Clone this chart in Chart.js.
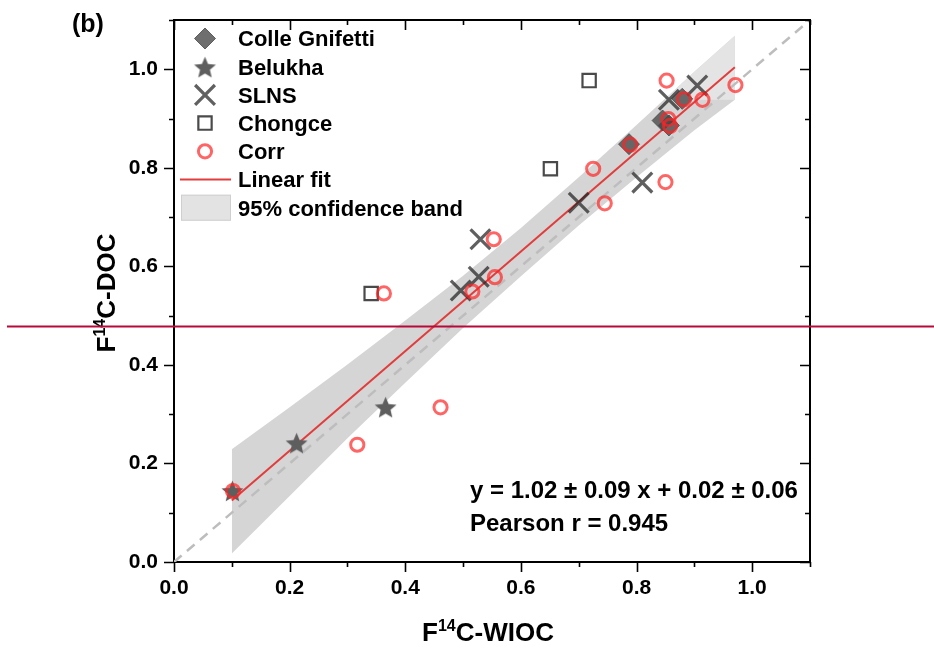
<!DOCTYPE html>
<html>
<head>
<meta charset="utf-8">
<script src="https://cdn.jsdelivr.net/npm/chart.js@4.4.1/dist/chart.umd.min.js"></script>
<style>
  html, body { margin: 0; padding: 0; background: #fff; }
</style>
</head>
<body>
<canvas id="myChart" width="934" height="648"></canvas>
<script>
// F14C-WIOC (x) against F14C-DOC (y)
var colleX = [0.787, 0.845, 0.856, 0.879];
var colleY = [0.848, 0.896, 0.886, 0.940];

var belukhaX = [0.101, 0.212, 0.366];
var belukhaY = [0.145, 0.242, 0.315];

var slnsX = [0.905, 0.856, 0.810, 0.700, 0.530, 0.527, 0.496];
var slnsY = [0.967, 0.938, 0.770, 0.729, 0.655, 0.579, 0.551];

var chongceX = [0.718, 0.651, 0.341];
var chongceY = [0.977, 0.798, 0.545];

var corrX = [0.852, 0.971, 0.882, 0.914, 0.855, 0.858, 0.789, 0.725, 0.850, 0.745, 0.553, 0.555, 0.516, 0.363, 0.317, 0.461, 0.102];
var corrY = [0.977, 0.968, 0.939, 0.938, 0.899, 0.885, 0.847, 0.798, 0.771, 0.728, 0.655, 0.578, 0.549, 0.545, 0.238, 0.314, 0.144];

// linear fit end points and 95% band edges
var fitX = [0.10, 0.97];
var fitY = [0.125, 1.004];
var bandX     = [0.10,  0.20,  0.30,  0.40,  0.50,  0.60,  0.70,  0.80,  0.90,  0.97];
var bandUpper = [0.229, 0.314, 0.401, 0.490, 0.581, 0.678, 0.781, 0.887, 0.995, 1.068];
var bandLower = [0.017, 0.134, 0.251, 0.364, 0.475, 0.580, 0.683, 0.781, 0.876, 0.938];
// lighter patch of the band above the lower edge's end
var bandTopX = [0.848, 0.90, 0.97];
var bandTopY = [0.938, 0.995, 1.068];

var oneToOneX = [0, 1.1];
var oneToOneY = [0, 1.1];

var tickLabels = ['0.0', '0.2', '0.4', '0.6', '0.8', '1.0'];
var markerLevel = 0.478; // red guide line across the figure

var legendLabels = ['Colle Gnifetti', 'Belukha', 'SLNS', 'Chongce', 'Corr', 'Linear fit', '95% confidence band'];
var equationText = 'y = 1.02 \u00b1 0.09 x + 0.02 \u00b1 0.06';
var pearsonText = 'Pearson r = 0.945';

function pts(xs, ys) {
	return xs.map(function(x, i) { return { x: x, y: ys[i] }; });
}

function makeStar(r, color) {
	var c = document.createElement('canvas');
	var s = Math.ceil(r * 2 + 2);
	c.width = s; c.height = s;
	var g = c.getContext('2d');
	g.fillStyle = color;
	g.beginPath();
	for (var i = 0; i < 10; i++) {
		var rr = i % 2 === 0 ? r : r * 0.45;
		var a = -Math.PI / 2 + i * Math.PI / 5;
		g.lineTo(s / 2 + rr * Math.cos(a), s / 2 + 1.5 + rr * Math.sin(a));
	}
	g.closePath();
	g.fill();
	return c;
}

var FONT = '"Liberation Sans", Arial, Helvetica, sans-serif';
Chart.defaults.font.family = FONT;

var starImg = makeStar(11.5, '#5e5e5e');

var styles = {
	colle:   { pointStyle: 'rectRot', radius: 10.5, borderWidth: 1, fill: 'rgba(70,70,70,0.78)', stroke: 'rgba(70,70,70,0.78)' },
	belukha: { pointStyle: starImg, radius: 11, borderWidth: 0, fill: '#5e5e5e', stroke: '#5e5e5e' },
	slns:    { pointStyle: 'crossRot', radius: 14, borderWidth: 3.2, fill: 'rgba(0,0,0,0)', stroke: 'rgba(35,35,35,0.72)' },
	chongce: { pointStyle: 'rect', radius: 9.4, borderWidth: 2.2, fill: 'rgba(0,0,0,0)', stroke: '#4a4a4a' },
	corr:    { pointStyle: 'circle', radius: 6.6, borderWidth: 3, fill: 'rgba(0,0,0,0)', stroke: 'rgba(255,35,35,0.7)' }
};
var fitColor = '#e23c3c';

function scatterSet(label, xs, ys, st, order) {
	return {
		label: label,
		data: pts(xs, ys),
		pointStyle: st.pointStyle,
		pointRadius: st.radius,
		pointBorderWidth: st.borderWidth,
		pointBackgroundColor: st.fill,
		pointBorderColor: st.stroke,
		order: order
	};
}

var decorations = {
	id: 'decorations',
	afterDraw: function(chart) {
		var ctx = chart.ctx;
		var a = chart.chartArea;
		var xs = chart.scales.x, ys = chart.scales.y;
		ctx.save();

		// frame and ticks (major outward, mirrored inward)
		ctx.strokeStyle = '#000';
		ctx.lineWidth = 2;
		ctx.beginPath();
		ctx.moveTo(a.left, a.top); ctx.lineTo(a.right, a.top); ctx.lineTo(a.right, a.bottom);
		ctx.stroke();
		ctx.lineWidth = 1.6;
		xs.ticks.forEach(function(t) {
			var p = Math.round(xs.getPixelForValue(t.value)) + 0.5;
			var len = t.label ? 10 : 5;
			ctx.beginPath();
			ctx.moveTo(p, a.bottom); ctx.lineTo(p, a.bottom + len);
			ctx.moveTo(p, a.top); ctx.lineTo(p, a.top + len);
			ctx.stroke();
		});
		ys.ticks.forEach(function(t) {
			var p = Math.round(ys.getPixelForValue(t.value)) + 0.5;
			var len = t.label ? 10 : 5;
			ctx.beginPath();
			ctx.moveTo(a.left - len, p); ctx.lineTo(a.left, p);
			ctx.moveTo(a.right - len, p); ctx.lineTo(a.right, p);
			ctx.stroke();
		});

		// legend
		var lx = 205, tx = 238, y0 = 38.5, dy = 28.2;
		var keys = ['colle', 'belukha', 'slns', 'chongce', 'corr'];
		keys.forEach(function(k, i) {
			var st = styles[k];
			ctx.fillStyle = st.fill;
			ctx.strokeStyle = st.stroke;
			ctx.lineWidth = st.borderWidth;
			Chart.helpers.drawPoint(ctx, { pointStyle: st.pointStyle, radius: st.radius, borderWidth: st.borderWidth, rotation: 0 }, lx, y0 + i * dy);
		});
		ctx.strokeStyle = fitColor;
		ctx.lineWidth = 2.2;
		ctx.beginPath();
		ctx.moveTo(180, y0 + 5 * dy); ctx.lineTo(231, y0 + 5 * dy);
		ctx.stroke();
		ctx.fillStyle = '#e3e3e3';
		ctx.strokeStyle = '#cfcfcf';
		ctx.lineWidth = 1;
		ctx.fillRect(181, y0 + 6 * dy - 13, 50, 26);
		ctx.strokeRect(181.5, y0 + 6 * dy - 12.5, 49, 25);

		ctx.fillStyle = '#000';
		ctx.textBaseline = 'alphabetic';
		ctx.textAlign = 'left';
		ctx.font = 'bold 22px ' + FONT;
		legendLabels.forEach(function(s, i) {
			ctx.fillText(s, tx, y0 + i * dy + 7.8);
		});

		// panel letter and fit statistics
		ctx.font = 'bold 25px ' + FONT;
		ctx.fillText('(b)', 72, 32);
		ctx.font = 'bold 24px ' + FONT;
		ctx.fillText(equationText, 470, 498);
		ctx.fillText(pearsonText, 470, 531);

		// axis titles with superscript
		function supText(parts, cx, cy) {
			var w = 0;
			parts.forEach(function(p) { ctx.font = 'bold ' + p[1] + 'px ' + FONT; w += ctx.measureText(p[0]).width; });
			var x = cx - w / 2;
			parts.forEach(function(p) {
				ctx.font = 'bold ' + p[1] + 'px ' + FONT;
				ctx.fillText(p[0], x, cy - p[2]);
				x += ctx.measureText(p[0]).width;
			});
		}
		supText([['F', 26, 0], ['14', 16, 10], ['C-WIOC', 26, 0]], 488, 641);
		ctx.save();
		ctx.translate(115, 293);
		ctx.rotate(-Math.PI / 2);
		supText([['F', 26, 0], ['14', 16, 10], ['C-DOC', 26, 0]], 0, 0);
		ctx.restore();

		// red guide line
		var gy = Math.round(ys.getPixelForValue(markerLevel)) + 0.5;
		ctx.strokeStyle = '#b80a3a';
		ctx.lineWidth = 2;
		ctx.beginPath();
		ctx.moveTo(7, gy); ctx.lineTo(chart.width, gy);
		ctx.stroke();

		ctx.restore();
	}
};

function tickCallback(v) {
	var k = v * 5;
	if (Math.abs(k - Math.round(k)) < 1e-6 && Math.round(k) < tickLabels.length) return tickLabels[Math.round(k)];
	return '';
}

var ctx = document.getElementById('myChart');
var chart = new Chart(ctx, {
	type: 'scatter',
	data: {
		datasets: [
			{ type: 'line', label: 'band upper', data: pts(bandX, bandUpper), borderWidth: 0, pointRadius: 0, backgroundColor: '#d5d5d5', fill: '+1', order: 20 },
			{ type: 'line', label: 'band lower', data: pts(bandX, bandLower), borderWidth: 0, pointRadius: 0, fill: false, order: 19 },
			{ type: 'line', label: 'band top', data: pts(bandTopX, bandTopY), borderWidth: 0, pointRadius: 0,
			  backgroundColor: '#e4e4e4', fill: { target: { value: bandTopY[0] } }, order: 18 },
			{ type: 'line', label: '1:1', data: pts(oneToOneX, oneToOneY), borderColor: '#bdbdbd', borderWidth: 2.5, borderDash: [10, 7], pointRadius: 0, fill: false, order: 17 },
			{ type: 'line', label: 'Linear fit', data: pts(fitX, fitY), borderColor: fitColor, borderWidth: 2, pointRadius: 0, fill: false, order: 16 },
			scatterSet('Colle Gnifetti', colleX, colleY, styles.colle, 5),
			scatterSet('Belukha', belukhaX, belukhaY, styles.belukha, 4),
			scatterSet('SLNS', slnsX, slnsY, styles.slns, 3),
			scatterSet('Chongce', chongceX, chongceY, styles.chongce, 2),
			scatterSet('Corr', corrX, corrY, styles.corr, 1)
		]
	},
	options: {
		responsive: false,
		animation: false,
		layout: { padding: { left: 0, right: 124, top: 20, bottom: 0 } },
		plugins: { legend: { display: false }, tooltip: { enabled: false } },
		scales: {
			x: {
				type: 'linear', min: 0, max: 1.1,
				afterFit: function(s) { s.height = 86; s.paddingLeft = 0; s.paddingRight = 0; },
				ticks: { stepSize: 0.1, autoSkip: false, maxRotation: 0, padding: 14, color: '#000', font: { size: 21, weight: 'bold' }, callback: tickCallback },
				grid: { display: false, drawTicks: false },
				border: { display: true, color: '#000', width: 2 }
			},
			y: {
				type: 'linear', min: 0, max: 1.1,
				afterFit: function(s) { s.width = 174; s.paddingTop = 0; s.paddingBottom = 0; },
				ticks: { stepSize: 0.1, autoSkip: false, padding: 16, color: '#000', font: { size: 21, weight: 'bold' }, callback: tickCallback },
				grid: { display: false, drawTicks: false },
				border: { display: true, color: '#000', width: 2 }
			}
		}
	},
	plugins: [decorations]
});
</script>
</body>
</html>
